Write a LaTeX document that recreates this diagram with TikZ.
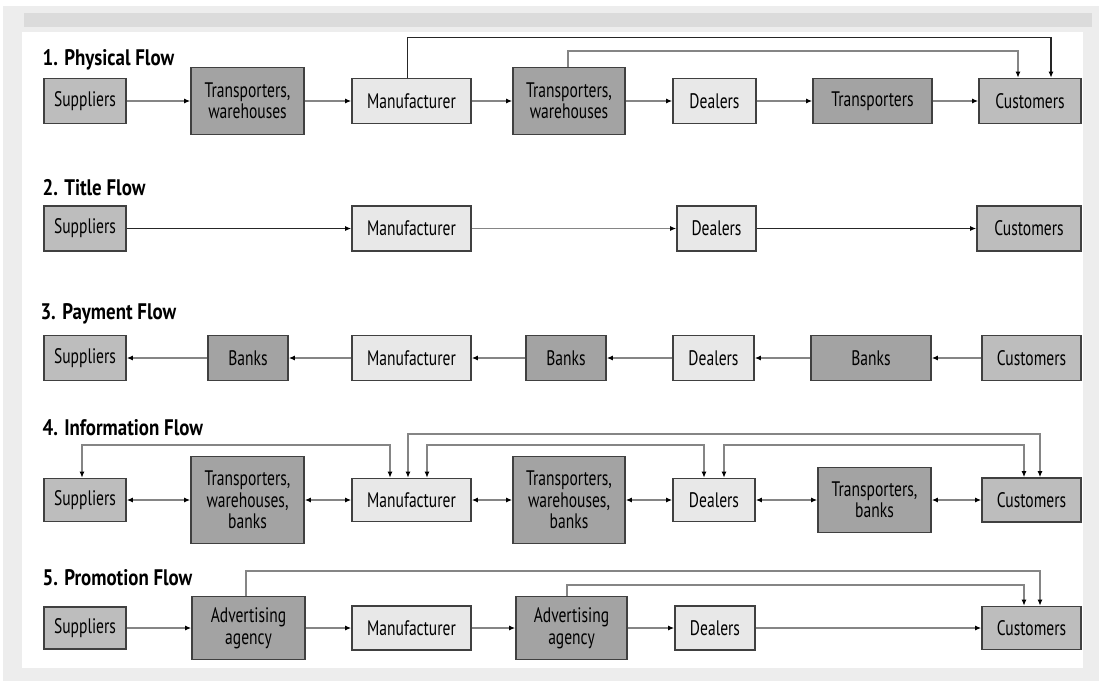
\documentclass[tikz,border=0pt]{standalone}
\usepackage{fontspec}
\setmainfont{PT Sans}[FakeStretch=0.74]
\newfontfamily\headfont{PT Sans}[FakeStretch=0.84]
\usepackage{tikz}
\usetikzlibrary{arrows.meta}
\definecolor{sfDark}{gray}{0.64}
\definecolor{sfMid}{gray}{0.74}
\definecolor{sfLight}{gray}{0.91}
\definecolor{sfEdge}{gray}{0.25}
\definecolor{sfFlow}{gray}{0.52}

\begin{document}
\begin{tikzpicture}[x=1pt,y=-1pt,
  >={Latex[length=6pt,width=5pt,color=black]},
  every node/.style={font=\fontsize{21}{21.5}\selectfont},
  box/.style={draw=sfEdge,line width=1.6pt,inner sep=0pt,align=center,minimum height=45pt},
  darkbox/.style={box,fill=sfDark},
  midbox/.style={box,fill=sfMid},
  lightbox/.style={box,fill=sfLight},
  heading/.style={anchor=west,font=\headfont\fontsize{22.5}{24}\selectfont\bfseries},
  flow/.style={draw=sfFlow,line width=1.8pt},
  titleflow/.style={draw=black!85,line width=1.3pt}]
  \useasboundingbox (0,0) rectangle (1099,681);
  \fill[black!7] (3,6) rectangle (1099,681);
  \fill[black!14] (24,13) rectangle (1092,27);
  \fill[white] (22,32) rectangle (1083,668);

  \node[heading] (h1) at (39,60) {1. Physical Flow};
  \node[midbox,minimum width=82pt] (s1) at (85,101) {Suppliers};
  \node[darkbox,minimum width=113pt,minimum height=67pt] (tw1) at (247.5,101) {Transporters,\\warehouses};
  \node[lightbox,minimum width=119pt] (m1) at (411.5,101) {Manufacturer};
  \node[darkbox,minimum width=112pt,minimum height=67pt] (tw2) at (569,101) {Transporters,\\warehouses};
  \node[lightbox,minimum width=83pt] (d1) at (714.5,101) {Dealers};
  \node[darkbox,minimum width=119pt] (t1) at (872.5,101) {Transporters};
  \node[midbox,minimum width=102pt] (c1) at (1030,101) {Customers};
  \draw[flow,->] (s1) -- (tw1);
  \draw[flow,->] (tw1) -- (m1);
  \draw[flow,->] (m1) -- (tw2);
  \draw[flow,->] (tw2) -- (d1);
  \draw[flow,->] (d1) -- (t1);
  \draw[flow,->] (t1) -- (c1);
  \draw[titleflow,->] ([xshift=-4pt]m1.north) |- ([xshift=21pt,yshift=40.5pt]c1.north) -- ([xshift=21pt]c1.north);
  \draw[flow,->] ([xshift=-1pt]tw2.north) |- ([xshift=-12pt,yshift=26.5pt]c1.north) -- ([xshift=-12pt]c1.north);

  \node[heading] (h2) at (39,188) {2. Title Flow};
  \node[midbox,minimum width=82pt] (s2) at (85,228.5) {Suppliers};
  \node[lightbox,minimum width=119pt] (m2) at (411.5,228.5) {Manufacturer};
  \node[lightbox,minimum width=79pt] (d2) at (716.5,228.5) {Dealers};
  \node[midbox,minimum width=104pt] (c2) at (1029,228.5) {Customers};
  \draw[titleflow,->] (s2) -- (m2);
  \draw[flow,->] (m2) -- (d2);
  \draw[titleflow,->] (d2) -- (c2);

  \node[heading] (h3) at (37,314) {3. Payment Flow};
  \node[midbox,minimum width=82pt] (s3) at (85,358) {Suppliers};
  \node[darkbox,minimum width=80pt] (b3a) at (248,358) {Banks};
  \node[lightbox,minimum width=119pt] (m3) at (411.5,358) {Manufacturer};
  \node[darkbox,minimum width=80pt] (b3b) at (566,358) {Banks};
  \node[lightbox,minimum width=81pt] (d3) at (713.5,358) {Dealers};
  \node[darkbox,minimum width=120pt] (b3c) at (871,358) {Banks};
  \node[midbox,minimum width=99pt] (c3) at (1031.5,358) {Customers};
  \draw[flow,->] (c3) -- (b3c);
  \draw[flow,->] (b3c) -- (d3);
  \draw[flow,->] (d3) -- (b3b);
  \draw[flow,->] (b3b) -- (m3);
  \draw[flow,->] (m3) -- (b3a);
  \draw[flow,->] (b3a) -- (s3);

  \node[heading] (h4) at (39,428) {4. Information Flow};
  \node[midbox,minimum width=82pt,minimum height=43pt] (s4) at (85,500) {Suppliers};
  \node[darkbox,minimum width=113pt,minimum height=87pt] (tw4) at (247.5,500) {Transporters,\\warehouses,\\banks};
  \node[lightbox,minimum width=119pt,minimum height=43pt] (m4) at (411.5,500) {Manufacturer};
  \node[darkbox,minimum width=112pt,minimum height=87pt] (tw5) at (569,500) {Transporters,\\warehouses,\\banks};
  \node[lightbox,minimum width=82pt,minimum height=43pt] (d4) at (714,500) {Dealers};
  \node[darkbox,minimum width=113pt,minimum height=65pt] (tb4) at (874.5,500) {Transporters,\\banks};
  \node[midbox,minimum width=99pt,minimum height=44pt] (c4) at (1031.5,500) {Customers};
  \draw[flow,<->] (s4) -- (tw4);
  \draw[flow,<->] (tw4) -- (m4);
  \draw[flow,<->] (m4) -- (tw5);
  \draw[flow,<->] (tw5) -- (d4);
  \draw[flow,<->] (d4) -- (tb4);
  \draw[flow,<->] (tb4) -- (c4);
  \draw[flow,<->] ([xshift=-3pt]s4.north) |- ([xshift=-21.5pt,yshift=32.5pt]m4.north) -- ([xshift=-21.5pt]m4.north);
  \draw[flow,<->] ([xshift=-3.5pt]m4.north) |- ([xshift=8.5pt,yshift=43pt]c4.north) -- ([xshift=8.5pt]c4.north);
  \draw[flow,<->] ([xshift=15.5pt]m4.north) |- ([xshift=-10pt,yshift=32.5pt]d4.north) -- ([xshift=-10pt]d4.north);
  \draw[flow,<->] ([xshift=10pt]d4.north) |- ([xshift=-7.5pt,yshift=32pt]c4.north) -- ([xshift=-7.5pt]c4.north);

  \node[heading] (h5) at (39,578) {5. Promotion Flow};
  \node[midbox,minimum width=82pt,minimum height=42pt] (s5) at (85,628) {Suppliers};
  \node[darkbox,minimum width=113pt,minimum height=63pt] (aa5) at (248.5,628) {Advertising\\agency};
  \node[lightbox,minimum width=119pt,minimum height=44pt] (m5) at (411.5,628) {Manufacturer};
  \node[darkbox,minimum width=111pt,minimum height=63pt] (aa6) at (571.5,628) {Advertising\\agency};
  \node[lightbox,minimum width=80pt,minimum height=44pt] (d5) at (715,628) {Dealers};
  \node[midbox,minimum width=99pt,minimum height=43pt] (c5) at (1031.5,628) {Customers};
  \draw[flow,->] (s5) -- (aa5);
  \draw[flow,->] (aa5) -- (m5);
  \draw[flow,->] (m5) -- (aa6);
  \draw[flow,->] (aa6) -- (d5);
  \draw[flow,->] (d5) -- (c5);
  \draw[flow,->] ([xshift=-2.5pt]aa5.north) |- ([xshift=8.5pt,yshift=34.5pt]c5.north) -- ([xshift=8.5pt]c5.north);
  \draw[flow,->] ([xshift=-4.5pt]aa6.north) |- ([xshift=-7.5pt,yshift=20.5pt]c5.north) -- ([xshift=-7.5pt]c5.north);
\end{tikzpicture}
\end{document}
